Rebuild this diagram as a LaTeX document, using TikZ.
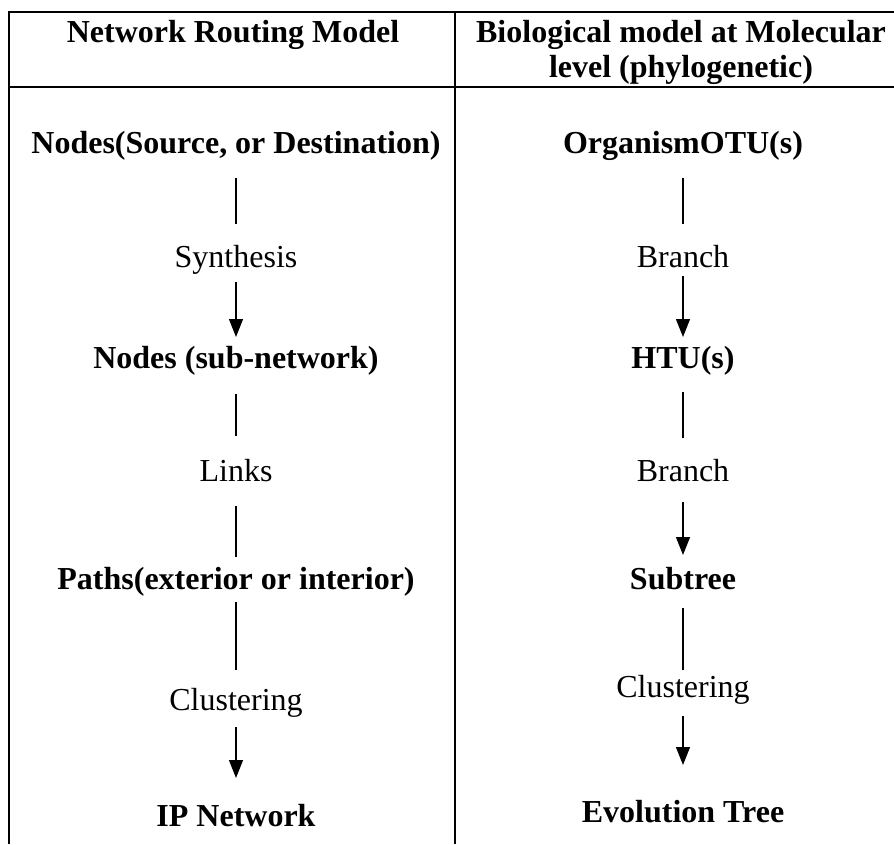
\documentclass[tikz,border=0pt]{standalone}
\usepackage{fontspec}
\setmainfont{Liberation Serif}
\usetikzlibrary{arrows.meta}
\begin{document}
\begin{tikzpicture}[x=1pt,y=-1pt,
  every node/.style={inner sep=0pt,outer sep=0pt,anchor=base,font=\fontsize{32}{35}\selectfont},
  lbl/.style={text height=22pt,text depth=7pt},
  term/.style={lbl,font=\fontsize{32}{35}\selectfont\bfseries},
  hdr/.style={font=\fontsize{32}{35}\selectfont\bfseries},
  conn/.style={line width=1.2pt},
  arr/.style={line width=1.3pt,-{Triangle[width=14pt,length=18pt]}},
  rule/.style={line width=1.8pt}]
\useasboundingbox (0,0) rectangle (894,844);
% table rules
\coordinate (tl) at (9,12);
\coordinate (tr) at (894,12);
\coordinate (hl) at (9,87);
\coordinate (hr) at (894,87);
\coordinate (bl) at (9,844);
\coordinate (mt) at (455,12);
\coordinate (mb) at (455,844);
\draw[rule] (tr) -- (tl) -- (bl);
\draw[rule] (hl) -- (hr);
\draw[rule] (mt) -- (mb);
% headers
\node[hdr] (h1) at (233,42) {Network Routing Model};
\node[hdr] (h2) at (681,42) {Biological model at Molecular};
\node[hdr] (h3) at (681,77) {level (phylogenetic)};
% left column
\node[term] (ns) at (236,153) {Nodes(Source, or Destination)};
\node[lbl] (syn) at (236,267) {Synthesis};
\node[term] (nsub) at (236,368) {Nodes (sub-network)};
\node[lbl] (links) at (236,481) {Links};
\node[term] (paths) at (236,589) {Paths(exterior or interior)};
\node[lbl] (clL) at (236,710) {Clustering};
\node[term] (ip) at (236,826) {IP Network};
% right column
\node[term] (otu) at (683,153) {OrganismOTU(s)};
\node[lbl] (br1) at (683,267) {Branch};
\node[term] (htu) at (683,368) {HTU(s)};
\node[lbl] (br2) at (683,481) {Branch};
\node[term] (sub) at (683,589) {Subtree};
\node[lbl] (clR) at (683,697) {Clustering};
\node[term] (evo) at (683,822) {Evolution Tree};
% left connectors
\draw[conn,shorten <=18pt,shorten >=21pt] (ns.south) -- (syn.north);
\draw[arr,shorten <=8pt,shorten >=9pt] (syn.south) -- (nsub.north);
\draw[conn,shorten <=19pt,shorten >=23pt] (nsub.south) -- (links.north);
\draw[conn,shorten <=18pt,shorten >=10pt] (links.south) -- (paths.north);
\draw[conn,shorten <=6pt,shorten >=18pt] (paths.south) -- (clL.north);
\draw[arr,shorten <=10pt,shorten >=26pt] (clL.south) -- (ip.north);
% right connectors
\draw[conn,shorten <=18pt,shorten >=21pt] (otu.south) -- (br1.north);
\draw[arr,shorten <=2pt,shorten >=9pt] (br1.south) -- (htu.north);
\draw[conn,shorten <=17pt,shorten >=21pt] (htu.south) -- (br2.north);
\draw[arr,shorten <=14pt,shorten >=12pt] (br2.south) -- (sub.north);
\draw[conn,shorten <=12pt,shorten >=5pt] (sub.south) -- (clR.north);
\draw[arr,shorten <=12pt,shorten >=35pt] (clR.south) -- (evo.north);
\end{tikzpicture}
\end{document}
